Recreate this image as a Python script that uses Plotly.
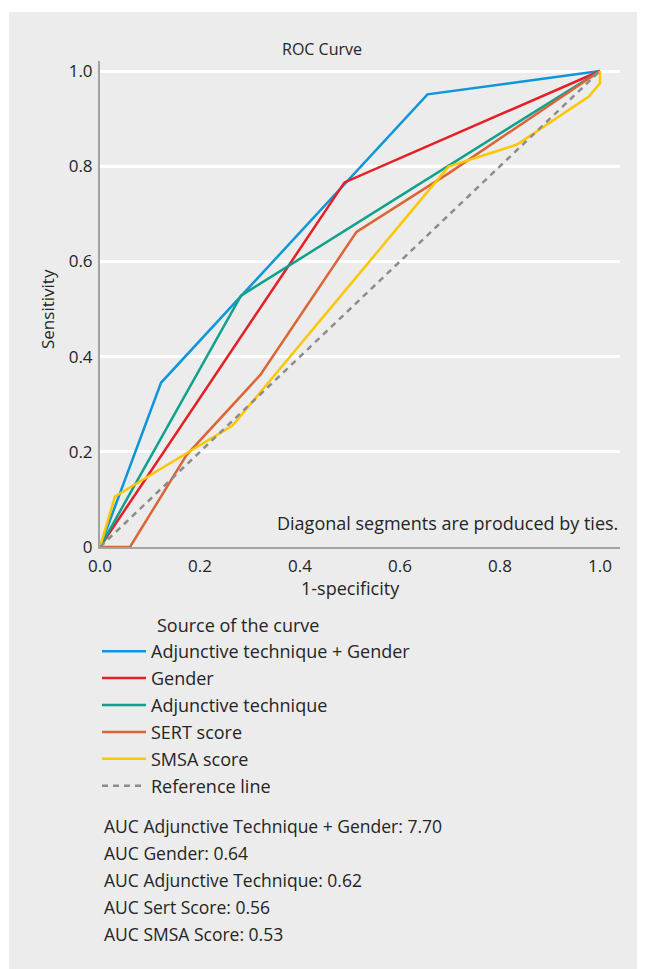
import plotly.graph_objects as go

# ---- data ----
series_names = ["Adjunctive technique + Gender", "Gender", "Adjunctive technique",
                "SERT score", "SMSA score"]
fpr_adj_gender = [0.0, 0.122, 0.655, 1.0]
tpr_adj_gender = [0.0, 0.345, 0.951, 1.0]
fpr_gender = [0.0, 0.489, 1.0]
tpr_gender = [0.0, 0.766, 1.0]
fpr_adj = [0.0, 0.282, 1.0]
tpr_adj = [0.0, 0.528, 1.0]
fpr_sert = [0.0, 0.06, 0.173, 0.321, 0.513, 0.697, 1.0]
tpr_sert = [0.0, 0.0, 0.193, 0.362, 0.662, 0.785, 1.0]
fpr_smsa = [0.0, 0.03, 0.265, 0.697, 0.833, 0.977, 1.0, 1.0]
tpr_smsa = [0.0, 0.106, 0.255, 0.799, 0.845, 0.946, 0.974, 1.0]
ref_x = [0.0, 1.0]
ref_y = [0.0, 1.0]
x_ticks = [0.0, 0.2, 0.4, 0.6, 0.8, 1.0]
x_tick_labels = ["0.0", "0.2", "0.4", "0.6", "0.8", "1.0"]
y_ticks = [0.0, 0.2, 0.4, 0.6, 0.8, 1.0]
y_tick_labels = ["0", "0.2", "0.4", "0.6", "0.8", "1.0"]
auc_lines = ["AUC Adjunctive Technique + Gender: 7.70",
             "AUC Gender: 0.64",
             "AUC Adjunctive Technique: 0.62",
             "AUC Sert Score: 0.56",
             "AUC SMSA Score: 0.53"]

colors = ["#0f96d9", "#e61e26", "#10a18d", "#dd6434", "#fcc700"]
BG = "#EBECEB"
FONT = "Open Sans"
TXT = "#252525"

# the page body adds an 8px margin; size the figure so it ends at the window edge
O = 8
W, H = 645 - O, 969 - O
L, T = 100 - O, 61 - O
PLOT_R, PLOT_B = 620 - O, 547 - O
R, B = W - PLOT_R, H - PLOT_B
PH = PLOT_B - T
PW = PLOT_R - L


def py(p):  # reference-screen pixel y -> paper y
    return (PLOT_B - (p - O)) / PH


def px(p):  # reference-screen pixel x -> paper x
    return ((p - O) - L) / PW


fig = go.Figure()
xs = [fpr_adj_gender, fpr_gender, fpr_adj, fpr_sert, fpr_smsa]
ys = [tpr_adj_gender, tpr_gender, tpr_adj, tpr_sert, tpr_smsa]
for i, (name, x, y, c) in enumerate(zip(series_names, xs, ys, colors)):
    fig.add_trace(go.Scatter(x=x, y=y, mode="lines", name=name, legendgroup=f"g{i}",
                             line=dict(color=c, width=2.5)))
fig.add_trace(go.Scatter(x=ref_x, y=ref_y, mode="lines", name="Reference line",
                         legendgroup="gref",
                         line=dict(color="#8c8c8c", width=2.5, dash="6px,5px")))

fig.update_layout(
    width=W, height=H,
    margin=dict(l=L, r=R, t=T, b=B),
    paper_bgcolor=BG, plot_bgcolor=BG,
    font=dict(family=FONT, size=17, color=TXT),
    title=dict(text="ROC Curve", x=(322 - O) / W, xref="container", xanchor="center",
               y=1 - (49 - O) / H, yref="container", yanchor="middle",
               font=dict(size=16, color=TXT)),
    showlegend=True,
    legend=dict(x=px(97), y=py(633), xanchor="left", yanchor="top",
                bgcolor="rgba(0,0,0,0)", font=dict(size=18, color=TXT),
                itemwidth=44, tracegroupgap=0.5, traceorder="grouped"),
    xaxis=dict(range=[0, 1.04], tickvals=x_ticks, ticktext=x_tick_labels,
               showgrid=False, zeroline=False, showline=True,
               linecolor="#a3a3a3", linewidth=2, ticks="", ticklabelstandoff=3,
               tickfont=dict(size=17, color=TXT)),
    yaxis=dict(range=[0, 1.021], tickvals=y_ticks, ticktext=y_tick_labels,
               showgrid=True, gridcolor="white", gridwidth=2.5,
               zeroline=False, showline=True, ticklabelstandoff=2,
               linecolor="#a3a3a3", linewidth=2, ticks="",
               tickfont=dict(size=17, color=TXT)),
)

annotations = [
    dict(text="1-specificity", x=0.5, xref="x", y=py(588), yref="paper",
         showarrow=False, xanchor="center", yanchor="middle", font=dict(size=18)),
    dict(text="Sensitivity", x=px(47), xref="paper", y=0.5, yref="y",
         showarrow=False, textangle=-90, xanchor="center", yanchor="middle",
         font=dict(size=17)),
    dict(text="Diagonal segments are produced by ties.", x=1.04, xref="x",
         y=py(523), yref="paper", showarrow=False, xanchor="right",
         yanchor="middle", font=dict(size=18)),
    dict(text="Source of the curve", x=px(155), xref="paper", y=py(625),
         yref="paper", showarrow=False, xanchor="left", yanchor="middle",
         font=dict(size=18)),
]
for i, t in enumerate(auc_lines):
    annotations.append(dict(text=t, x=px(102), xref="paper", y=py(826 + 27 * i),
                            yref="paper", showarrow=False, xanchor="left",
                            yanchor="middle", font=dict(size=17.5)))
fig.update_layout(annotations=annotations)

# white page margin at top and left (outside the grey panel)
fig.update_layout(shapes=[
    dict(type="rect", xref="paper", yref="paper", x0=px(0), x1=px(700), y0=py(12), y1=py(0),
         fillcolor="white", line=dict(width=0), layer="below"),
    dict(type="rect", xref="paper", yref="paper", x0=px(0), x1=px(9), y0=py(1000), y1=py(0),
         fillcolor="white", line=dict(width=0), layer="below"),
])

fig.write_html("out.html")
